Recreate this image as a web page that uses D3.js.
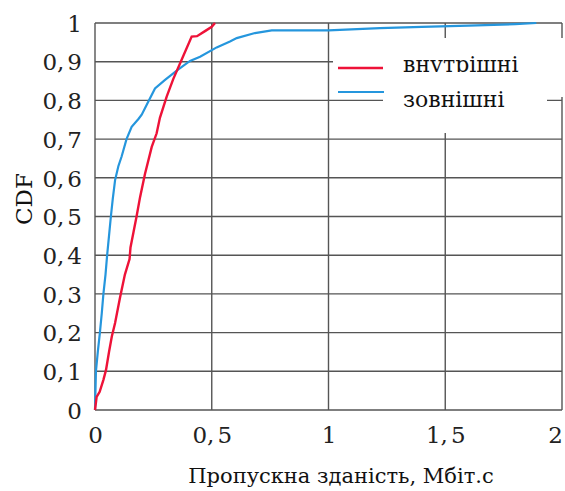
<!DOCTYPE html>
<html><head><meta charset="utf-8">
<script src="https://cdn.jsdelivr.net/npm/d3@7"></script>
<style>body{margin:0;background:#fff}svg{display:block}</style>
</head><body>
<svg id="c" width="565" height="491"></svg>
<script>
const seriesNames = ["внутрішні", "зовнішні"];
const internalX = [0,0.007,0.02,0.036,0.047,0.06,0.072,0.086,0.107,0.128,0.148,0.152,0.165,0.178,0.193,0.214,0.243,0.264,0.278,0.307,0.335,0.371,0.414,0.437,0.471,0.5,0.514];
const internalY = [0,0.034,0.047,0.078,0.103,0.15,0.19,0.225,0.29,0.35,0.39,0.42,0.46,0.5,0.55,0.61,0.68,0.715,0.755,0.81,0.855,0.905,0.965,0.966,0.979,0.99,1.0];
const externalX = [0,0.004,0.012,0.021,0.029,0.036,0.045,0.052,0.06,0.068,0.076,0.086,0.1,0.114,0.135,0.157,0.186,0.2,0.221,0.257,0.3,0.357,0.407,0.45,0.521,0.578,0.607,0.685,0.757,1.0,1.22,1.4,1.6,1.8,1.89];
const externalY = [0,0.1,0.15,0.2,0.25,0.3,0.35,0.4,0.45,0.5,0.545,0.594,0.63,0.655,0.7,0.732,0.752,0.763,0.788,0.831,0.853,0.88,0.902,0.913,0.937,0.952,0.961,0.974,0.981,0.981,0.987,0.99,0.993,0.997,1.0];
const xTicks = [0,0.5,1,1.5,2];
const yTicks = [0,0.1,0.2,0.3,0.4,0.5,0.6,0.7,0.8,0.9,1];
const xTitle = "Пропускна зданість, Мбіт.с";
const yTitle = "CDF";

const FONT = "DejaVu Serif";
const svg = d3.select("#c").style("font-family", FONT);
const L=95,R=562,T=23,B=410;
const x = d3.scaleLinear().domain([0,2]).range([L,R]);
const y = d3.scaleLinear().domain([0,1]).range([B,T]);
const gridC = "#555";

const g = svg.append("g");
g.selectAll(".hy").data(yTicks).join("line")
  .attr("x1",L).attr("x2",R).attr("y1",d=>y(d)).attr("y2",d=>y(d))
  .attr("stroke",gridC).attr("stroke-width",1.4);
g.selectAll(".vx").data(xTicks).join("line")
  .attr("y1",T).attr("y2",B).attr("x1",d=>x(d)).attr("x2",d=>x(d))
  .attr("stroke",gridC).attr("stroke-width",1.4);

svg.append("rect").attr("x",333).attr("y",38).attr("width",231).attr("height",59).attr("fill","#fff");
svg.append("rect").attr("x",383).attr("y",96).attr("width",164).attr("height",37).attr("fill","#fff");

function fmt(d){ return String(d).replace(".",","); }
const xAxis = d3.axisBottom(x).tickValues(xTicks).tickSize(0).tickPadding(0).tickFormat(fmt);
const ya = d3.axisLeft(y).tickValues(yTicks).tickSize(0).tickPadding(0).tickFormat(fmt);
const gx = svg.append("g").attr("transform",`translate(0,${B})`).call(xAxis);
const gy = svg.append("g").attr("transform",`translate(${L},0)`).call(ya);
[gx,gy].forEach(a=>{a.select(".domain").remove();
  a.attr("font-family",FONT).attr("font-size",23);
  a.selectAll("text").attr("fill","#222");});
gx.selectAll("text").attr("y",33).attr("dy",0).attr("dx",d=>d===2?-7:0);
gy.selectAll("text").attr("x",-13).attr("dy","0.36em");
[gx,gy].forEach(a=>a.selectAll("text").each(function(){
  const t=d3.select(this); const s=t.text();
  if(s.includes(",")){ const p=s.split(","); t.text(null);
    t.append("tspan").text(p[0]+",");
    t.append("tspan").attr("dx",3).text(p[1]); }
}));

const line = d3.line().x(d=>x(d[0])).y(d=>y(d[1]));
const intData = internalX.map((v,i)=>[v,internalY[i]]);
const extData = externalX.map((v,i)=>[v,externalY[i]]);
svg.append("path").datum(extData).attr("d",line).attr("fill","none")
  .attr("stroke","#2596dd").attr("stroke-width",2.2);
svg.append("path").datum(intData).attr("d",line).attr("fill","none")
  .attr("stroke","#ee1238").attr("stroke-width",2.4);

svg.append("defs").append("clipPath").attr("id","clipL").append("rect")
  .attr("x",390).attr("y",30).attr("width",170).attr("height",42);
svg.append("line").attr("x1",338).attr("x2",383).attr("y1",68).attr("y2",68)
  .attr("stroke","#ee1238").attr("stroke-width",2.4);
svg.append("line").attr("x1",338).attr("x2",384).attr("y1",92).attr("y2",92)
  .attr("stroke","#2596dd").attr("stroke-width",2.2);
svg.append("text").attr("x",403).attr("y",72).attr("clip-path","url(#clipL)")
  .attr("font-size",22).attr("fill","#111").text(seriesNames[0]);
svg.append("text").attr("x",403).attr("y",107)
  .attr("font-size",22).attr("fill","#111").text(seriesNames[1]);

svg.append("text").attr("x",341).attr("y",483).attr("text-anchor","middle")
  .attr("font-size",21).attr("fill","#111").text(xTitle);
svg.append("text").attr("transform","translate(32,199) rotate(-90)").attr("text-anchor","middle")
  .attr("font-size",23).attr("fill","#111").text(yTitle);
</script>
</body></html>
